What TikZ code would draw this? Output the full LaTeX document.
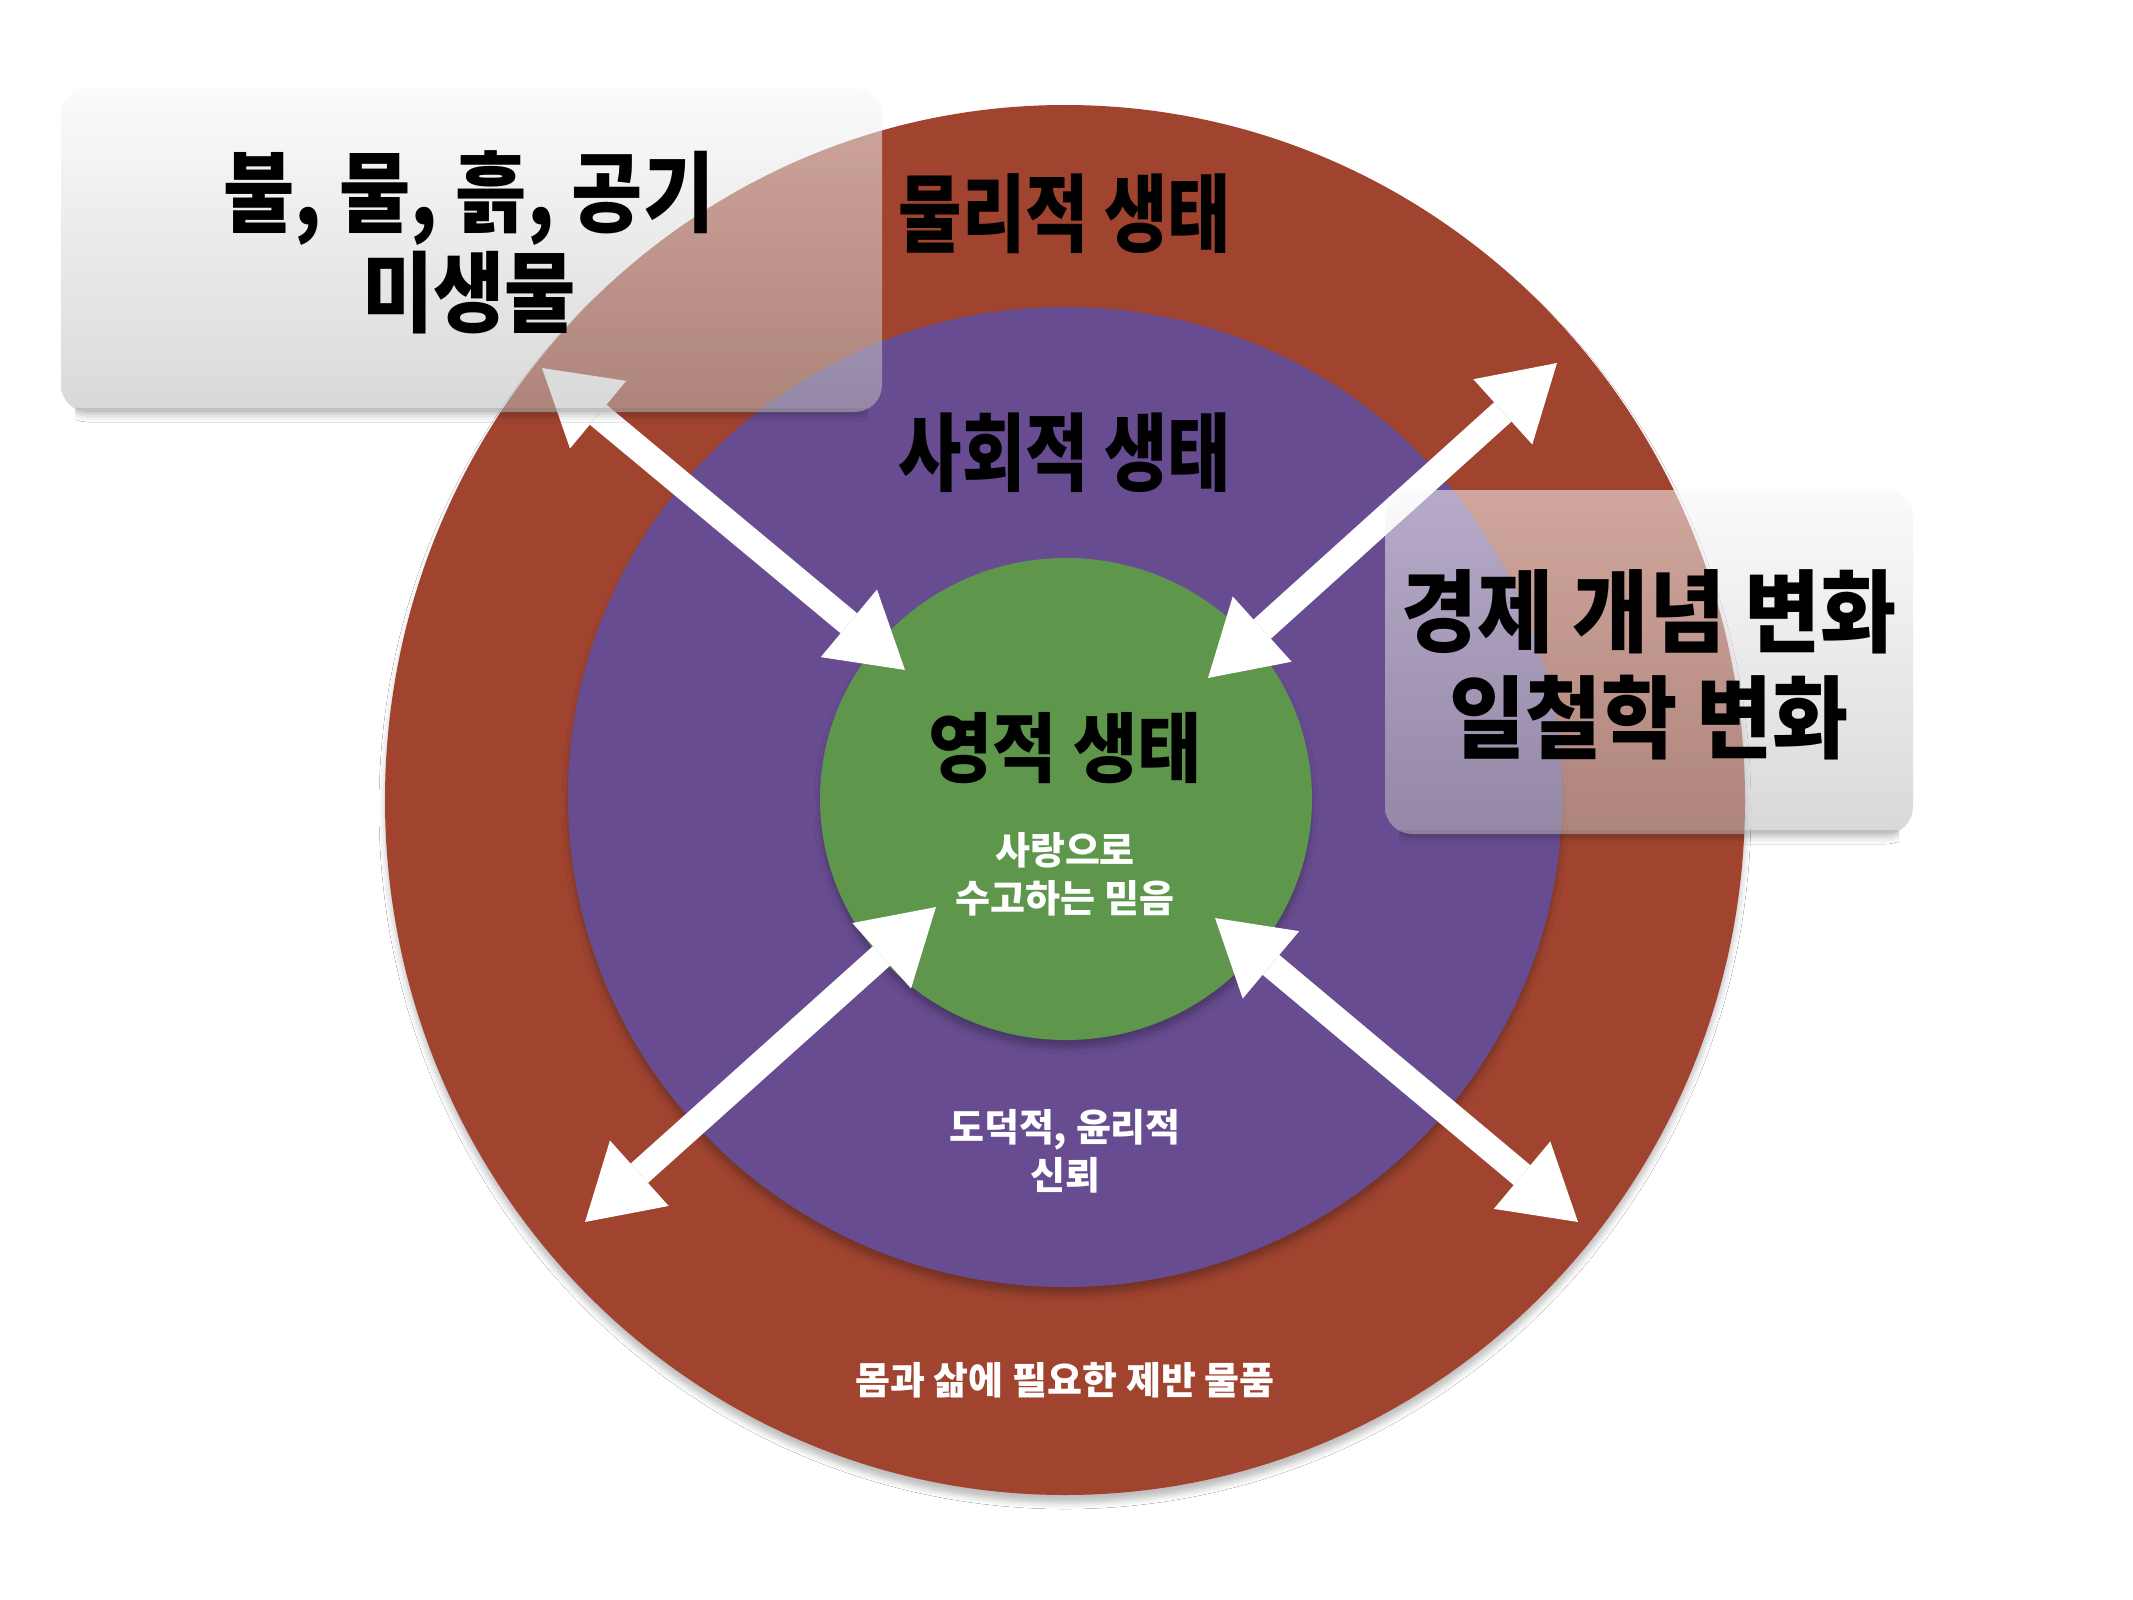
\documentclass[tikz,border=0pt]{standalone}
\usepackage{fontspec}
\usetikzlibrary{shapes.geometric,arrows.meta,shadows.blur}
\newfontfamily\krC{Noto Sans CJK KR}[FakeStretch=0.81]
\newfontfamily\krS{Noto Sans CJK KR}[FakeStretch=0.88]
\newfontfamily\krM{Noto Sans CJK KR}[FakeStretch=0.92]
\newfontfamily\krN{Noto Sans CJK KR}
\definecolor{ecored}{RGB}{160,68,48}
\definecolor{ecopurple}{RGB}{104,76,145}
\definecolor{ecogreen}{RGB}{94,151,76}
\definecolor{boxtop}{RGB}{248,248,248}
\definecolor{boxbot}{RGB}{186,186,186}
\tikzset{
  ring/.style={ellipse, inner sep=0pt, outer sep=0pt, draw=none,
    blur shadow={shadow xshift=0pt, shadow yshift=-4pt, shadow blur radius=3pt, shadow opacity=25}},
  glassbox/.style={rectangle, rounded corners=13.5pt, inner sep=0pt, draw=none,
    top color=boxtop, bottom color=boxbot, fill opacity=0.55},
  whitearrow/.style={draw=white, line width=13pt, {Triangle[length=36.5pt,width=44pt,line width=0pt]}-{Triangle[length=36.5pt,width=44pt,line width=0pt]}},
  arrowshade/.style={draw=black, draw opacity=0.2, fill opacity=0.2, line width=13pt, xshift=1.5pt, yshift=-2pt,
    {Triangle[length=36.5pt,width=44pt,line width=0pt]}-{Triangle[length=36.5pt,width=44pt,line width=0pt]}},
  biglabel/.style={text=black, align=center, font=\krC\bfseries\fontsize{42.5pt}{49pt}\selectfont},
  leftlabel/.style={text=black, align=center, font=\krS\bfseries\fontsize{44pt}{50pt}\selectfont},
  midlabel/.style={text=black, align=center, font=\krM\bfseries\fontsize{38pt}{44pt}\selectfont},
  boxlabel/.style={text=black, align=center, font=\krM\bfseries\fontsize{45pt}{53pt}\selectfont},
  smalllabel/.style={text=white, align=center, font=\krN\bfseries\fontsize{19pt}{24pt}\selectfont},
}
\begin{document}
\begin{tikzpicture}[x=0.5pt,y=-0.5pt]
\useasboundingbox (0,0) rectangle (2133,1600);
\fill[white] (0,0) rectangle (2133,1600);

% rings
\node[ring, fill=ecored, minimum width=680pt, minimum height=695pt] (physical) at (1065,800) {};
\node[ring, fill=ecopurple, minimum width=497pt, minimum height=490pt] (social) at (1065,797) {};
\node[ring, fill=ecogreen, minimum width=246pt, minimum height=241pt] (spiritual) at (1066,799) {};

% labels in rings
\node[biglabel] (tphys) at (1065,214) {물리적 생태};
\node[biglabel] (tsoc) at (1065,453) {사회적 생태};
\node[midlabel] (tspi) at (1065,748) {영적 생태};
\node[smalllabel] (tfaith) at (1065,874) {사랑으로\\수고하는 믿음};
\node[smalllabel] (ttrust) at (1065,1151) {도덕적, 윤리적\\신뢰};
\node[smalllabel] (tgoods) at (1065,1380) {몸과 삶에 필요한 제반 물품};

% arrow end points
\coordinate (a1o) at (542,368);
\coordinate (a1i) at (905,670);
\coordinate (a2o) at (1557,363);
\coordinate (a2i) at (1208,678);
\coordinate (a3o) at (585,1222);
\coordinate (a3i) at (936,907);
\coordinate (a4o) at (1578,1222);
\coordinate (a4i) at (1215,918);

% arrow shadows
\draw[arrowshade] (a1o) -- (a1i);
\draw[arrowshade] (a2o) -- (a2i);
\draw[arrowshade] (a3o) -- (a3i);
\draw[arrowshade] (a4o) -- (a4i);
% arrows
\draw[whitearrow] (a1o) -- (a1i);
\draw[whitearrow] (a2o) -- (a2i);
\draw[whitearrow] (a3o) -- (a3i);
\draw[whitearrow] (a4o) -- (a4i);

% box shadows (only below the boxes)
\begin{scope}
  \clip (75,408) rectangle (868,430);
  \path[rounded corners=13.5pt, blur shadow={shadow xshift=0pt, shadow yshift=-2pt, shadow blur radius=3pt, shadow opacity=22}] (61,88) rectangle (882,412);
\end{scope}
\begin{scope}
  \clip (1399,830) rectangle (1899,852);
  \path[rounded corners=13.5pt, blur shadow={shadow xshift=0pt, shadow yshift=-2pt, shadow blur radius=3pt, shadow opacity=22}] (1385,490) rectangle (1913,834);
\end{scope}

% glass boxes
\node[glassbox, minimum width=410.5pt, minimum height=162pt] (leftbox) at (471.5,250) {};
\node[glassbox, minimum width=264pt, minimum height=172pt] (rightbox) at (1649,662) {};

\node[leftlabel] (tleft) at (469,242) {불, 물, 흙, 공기\\미생물};
\node[boxlabel] (tright) at (1649,665) {경제 개념 변화\\일철학 변화};
\end{tikzpicture}
\end{document}
